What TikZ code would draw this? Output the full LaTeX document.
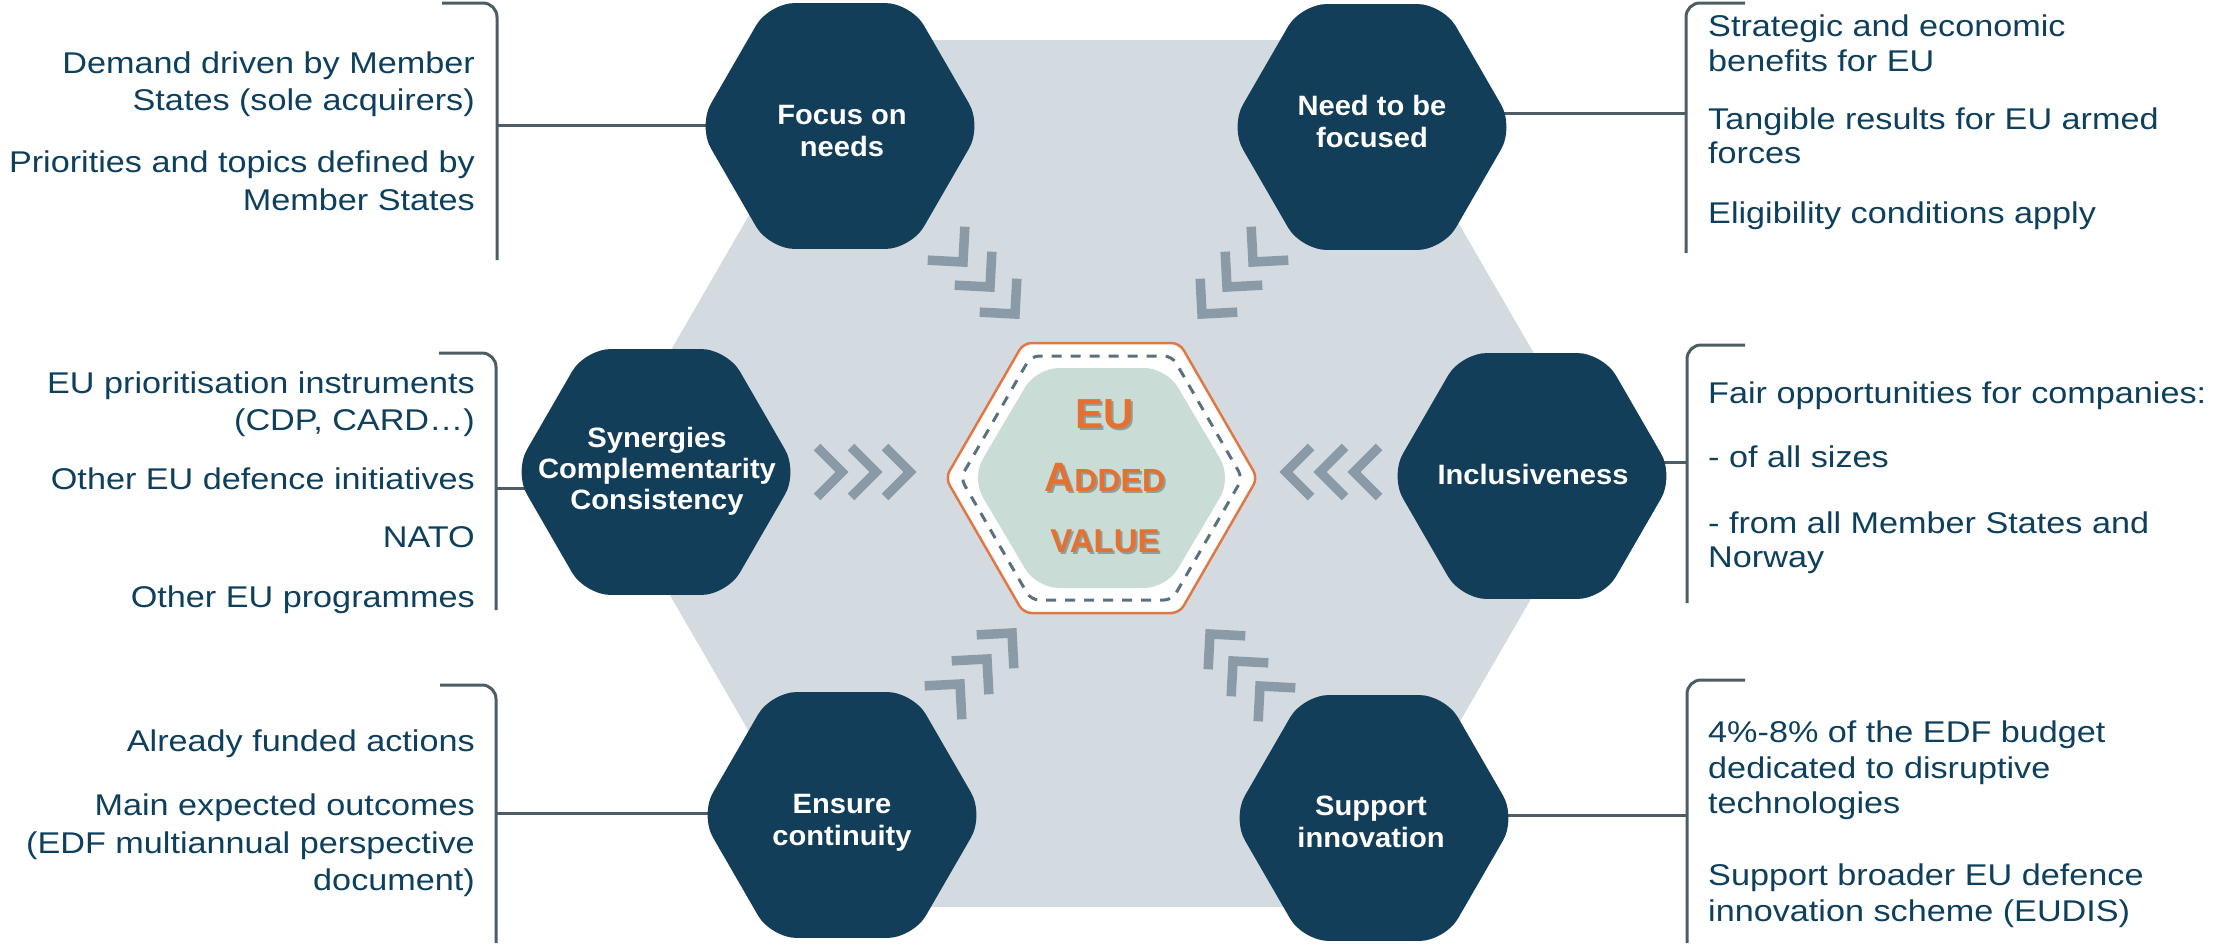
\documentclass[tikz,border=0pt]{standalone}
\usepackage{fontspec}
\setmainfont{Liberation Sans}[FakeStretch=1.14]
\newfontfamily\hexfont{Liberation Sans}[FakeStretch=1.04]
\newfontfamily\cfont{Liberation Sans}
\usetikzlibrary{shapes.geometric}
\definecolor{hexnavy}{HTML}{123E59}
\definecolor{txtblue}{HTML}{0E405E}
\definecolor{hexgray}{HTML}{D3DBE1}
\definecolor{chevcol}{HTML}{8A9BA7}
\definecolor{brkcol}{HTML}{4E5C66}
\definecolor{orngtxt}{HTML}{E5702F}
\definecolor{orline}{HTML}{E07845}
\definecolor{innerfill}{HTML}{C9DDD6}
\definecolor{dashcol}{HTML}{5B717D}
\pgfdeclarelayer{bg}
\pgfsetlayers{bg,main}
\newcommand\myhex[4]{(#1-#3,#2) -- (#1-#3/2,#2-#4) -- (#1+#3/2,#2-#4) -- (#1+#3,#2) -- (#1+#3/2,#2+#4) -- (#1-#3/2,#2+#4) -- cycle}
\tikzset{
 darkhex/.style={regular polygon, regular polygon sides=6, minimum size=284pt, inner sep=0pt, outer sep=0pt, fill=hexnavy, rounded corners=26pt, draw=none},
 hextext/.style={text=white, font=\hexfont\bfseries\fontsize{28}{32}\selectfont, anchor=base, inner sep=0pt},
 bodytxt/.style={text=txtblue, font=\fontsize{30}{36}\selectfont, inner sep=0pt},
 ltxt/.style={bodytxt, anchor=base east},
 rtxt/.style={bodytxt, anchor=base west},
 bk/.style={draw=brkcol, line width=3pt},
 chv/.style={draw=chevcol, line width=9.5pt, line join=miter, miter limit=10},
 chevr/.pic={\draw[chv] (-25,-25) -- (0,0) -- (-25,25);},
 ctext/.style={text=orngtxt, inner sep=0pt, anchor=base},
 cshadow/.style={text=black, opacity=0.28, inner sep=0pt, anchor=base},
}
\begin{document}
\begin{tikzpicture}[x=1pt,y=-1pt]
\useasboundingbox (0,0) rectangle (2216,943);
% big grey hexagon
\begin{pgfonlayer}{bg}
\fill[hexgray] \myhex{1101.5}{473.5}{502}{433.5};
\end{pgfonlayer}

% chevrons: horizontal
\foreach \x in {842,876,910} \path (\x,472) pic[rotate=0] {chevr};
\foreach \x in {1354,1320,1286} \path (\x,472) pic[rotate=180] {chevr};
% diagonal
\path (963,262) pic[rotate=-48] {chevr};
\path (990,287) pic[rotate=-48] {chevr};
\path (1015,314) pic[rotate=-48] {chevr};
\path (1253,262) pic[rotate=228] {chevr};
\path (1227,287) pic[rotate=228] {chevr};
\path (1202,314) pic[rotate=228] {chevr};
\path (1012,633) pic[rotate=48] {chevr};
\path (987,659) pic[rotate=48] {chevr};
\path (960,684) pic[rotate=48] {chevr};
\path (1210,634) pic[rotate=132] {chevr};
\path (1233,661) pic[rotate=132] {chevr};
\path (1260,686) pic[rotate=132] {chevr};

% centre hexagon
\filldraw[fill=white, draw=orline, line width=2.5pt, rounded corners=8pt] \myhex{1101.5}{478}{156}{135};
\draw[draw=dashcol, line width=3pt, dash pattern=on 10pt off 9pt, rounded corners=8pt] \myhex{1101.5}{478}{141}{122};
\fill[innerfill, rounded corners=22pt] \myhex{1101.5}{478}{130}{110};

\node[cshadow, font=\cfont\bfseries\fontsize{42}{42}\selectfont] (eus) at (1107,430) {EU};
\node[cshadow, font=\cfont\bfseries] (adds) at (1107,493) {{\fontsize{41}{41}\selectfont A}{\fontsize{32}{32}\selectfont DDED}};
\node[cshadow, font=\cfont\bfseries\fontsize{33}{33}\selectfont] (vals) at (1107,554) {VALUE};
\node[ctext, font=\cfont\bfseries\fontsize{42}{42}\selectfont] (eu) at (1105,428) {EU};
\node[ctext, font=\cfont\bfseries] (added) at (1105,491) {{\fontsize{41}{41}\selectfont A}{\fontsize{32}{32}\selectfont DDED}};
\node[ctext, font=\cfont\bfseries\fontsize{33}{33}\selectfont] (value) at (1105,552) {VALUE};

% dark hexagons
\node[darkhex] (focus) at (840,126) {};
\node[darkhex] (need) at (1372,127) {};
\node[darkhex] (syn) at (656,472) {};
\node[darkhex] (incl) at (1532,476) {};
\node[darkhex] (ens) at (842,815) {};
\node[darkhex] (supp) at (1374,818) {};

\node[hextext] (focusA) at (842,124) {Focus on};
\node[hextext] (focusB) at (842,156) {needs};
\node[hextext] (needA) at (1372,115) {Need to be};
\node[hextext] (needB) at (1372,147) {focused};
\node[hextext] (synA) at (657,447) {Synergies};
\node[hextext] (synB) at (657,478) {Complementarity};
\node[hextext] (synC) at (657,509) {Consistency};
\node[hextext] (inclA) at (1533,484) {Inclusiveness};
\node[hextext] (ensA) at (842,813) {Ensure};
\node[hextext] (ensB) at (842,845) {continuity};
\node[hextext] (suppA) at (1371,815) {Support};
\node[hextext] (suppB) at (1371,847) {innovation};

% brackets
\draw[bk, rounded corners=14pt] (442,3) -- (497,3) -- (497,260);
\draw[bk, rounded corners=14pt] (439,353) -- (496,353) -- (496,610);
\draw[bk, rounded corners=14pt] (440,685) -- (496,685) -- (496,943);
\draw[bk, rounded corners=14pt] (1745,3) -- (1686,3) -- (1686,253);
\draw[bk, rounded corners=14pt] (1745,345) -- (1687,345) -- (1687,603);
\draw[bk, rounded corners=14pt] (1745,680) -- (1687,680) -- (1687,943);
\coordinate (l1c) at (497,125);
\coordinate (l2c) at (496,488);
\coordinate (l3c) at (496,813);
\coordinate (r1c) at (1686,113);
\coordinate (r2c) at (1687,462);
\coordinate (r3c) at (1687,815);
\begin{pgfonlayer}{bg}
\draw[bk] (l1c) -- (l1c -| focus.center);
\draw[bk] (l2c) -- (l2c -| syn.center);
\draw[bk] (l3c) -- (l3c -| ens.center);
\draw[bk] (r1c) -- (r1c -| need.center);
\draw[bk] (r2c) -- (r2c -| incl.center);
\draw[bk] (r3c) -- (r3c -| supp.center);
\end{pgfonlayer}

% left texts
\node[ltxt] (t1) at (475,73) {Demand driven by Member};
\node[ltxt] (t2) at (475,110) {States (sole acquirers)};
\node[ltxt] (t3) at (475,172) {Priorities and topics defined by};
\node[ltxt] (t4) at (475,210) {Member States};
\node[ltxt] (t5) at (475,393) {EU prioritisation instruments};
\node[ltxt] (t6) at (475,430) {(CDP, CARD…)};
\node[ltxt] (t7) at (475,489) {Other EU defence initiatives};
\node[ltxt] (t8) at (475,547) {NATO};
\node[ltxt] (t9) at (475,607) {Other EU programmes};
\node[ltxt] (t10) at (475,751) {Already funded actions};
\node[ltxt] (t11) at (475,815) {Main expected outcomes};
\node[ltxt] (t12) at (475,853) {(EDF multiannual perspective};
\node[ltxt] (t13) at (475,890) {document)};
% right texts
\node[rtxt] (u1) at (1708,36) {Strategic and economic};
\node[rtxt] (u2) at (1708,71) {benefits for EU};
\node[rtxt] (u3) at (1708,129) {Tangible results for EU armed};
\node[rtxt] (u4) at (1708,163) {forces};
\node[rtxt] (u5) at (1708,223) {Eligibility conditions apply};
\node[rtxt] (u6) at (1708,403) {Fair opportunities for companies:};
\node[rtxt] (u7) at (1708,467) {- of all sizes};
\node[rtxt] (u8) at (1708,533) {- from all Member States and};
\node[rtxt] (u9) at (1708,567) {Norway};
\node[rtxt] (u10) at (1708,742) {4\%-8\% of the EDF budget};
\node[rtxt] (u11) at (1708,778) {dedicated to disruptive};
\node[rtxt] (u12) at (1708,813) {technologies};
\node[rtxt] (u13) at (1708,885) {Support broader EU defence};
\node[rtxt] (u14) at (1708,921) {innovation scheme (EUDIS)};
\end{tikzpicture}
\end{document}
